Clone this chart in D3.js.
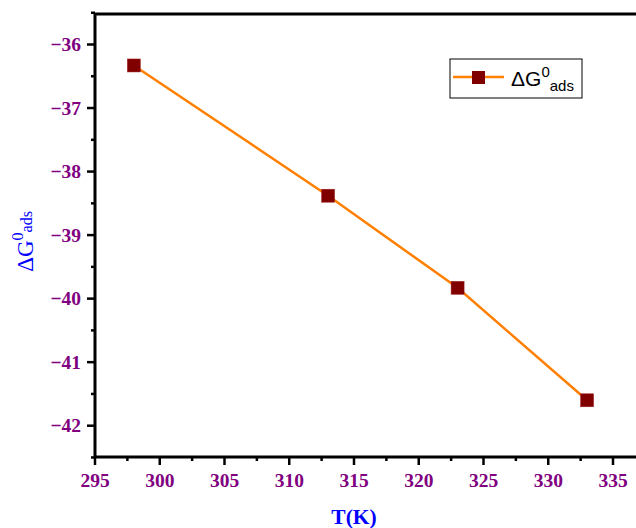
<!DOCTYPE html>
<html>
<head>
<meta charset="utf-8">
<script src="https://cdn.jsdelivr.net/npm/d3@7"></script>
<style>
body { margin: 0; background: #fff; }
</style>
</head>
<body>
<script>
var width = 636, height = 528;

// data
var temps = [298, 313, 323, 333];
var dG = [-36.33, -38.38, -39.83, -41.60];
var xTicks = [295, 300, 305, 310, 315, 320, 325, 330, 335];
var yTicks = [-36, -37, -38, -39, -40, -41, -42];

// plot edges (right edge runs off the picture)
var padL = 95, padT = 14, padR = 656, padB = 457;

var x = d3.scaleLinear().domain([295, 335]).range([padL, 613]);
var y = d3.scaleLinear().domain([-36, -42]).range([44.5, 425.7]);

var svg = d3.select("body").append("svg")
  .attr("width", width)
  .attr("height", height);

var purple = "#800080";
var minus = function(v){ return String(v).replace("-", "\u2212"); };

// minor ticks
var xMinor = d3.range(297.5, 337, 5);
svg.selectAll(".xminor").data(xMinor).enter().append("line")
  .attr("x1", function(d){ return x(d); }).attr("x2", function(d){ return x(d); })
  .attr("y1", padB).attr("y2", padB + 4)
  .attr("stroke", "#000").attr("stroke-width", 2.5);
var yMinor = d3.range(-35.5, -42.6, -0.5).filter(function(d){ return d % 1 !== 0; });
svg.selectAll(".yminor").data(yMinor).enter().append("line")
  .attr("x1", padL - 4).attr("x2", padL)
  .attr("y1", function(d){ return y(d); }).attr("y2", function(d){ return y(d); })
  .attr("stroke", "#000").attr("stroke-width", 2.5);

// major ticks
svg.selectAll(".xmajor").data(xTicks).enter().append("line")
  .attr("x1", function(d){ return x(d); }).attr("x2", function(d){ return x(d); })
  .attr("y1", padB).attr("y2", padB + 8)
  .attr("stroke", "#000").attr("stroke-width", 2.5);
svg.selectAll(".ymajor").data(yTicks).enter().append("line")
  .attr("x1", padL - 8).attr("x2", padL)
  .attr("y1", function(d){ return y(d); }).attr("y2", function(d){ return y(d); })
  .attr("stroke", "#000").attr("stroke-width", 2.5);

// tick labels
svg.selectAll(".xlab").data(xTicks).enter().append("text")
  .attr("x", function(d){ return x(d); })
  .attr("y", padB + 30)
  .attr("text-anchor", "middle")
  .attr("font-family", "Liberation Serif, serif")
  .attr("font-weight", "bold")
  .attr("font-size", 19.5)
  .attr("fill", purple)
  .text(function(d){ return d; });
svg.selectAll(".ylab").data(yTicks).enter().append("text")
  .attr("x", padL - 14)
  .attr("y", function(d){ return y(d) + 6.5; })
  .attr("text-anchor", "end")
  .attr("font-family", "Liberation Serif, serif")
  .attr("font-weight", "bold")
  .attr("font-size", 19.5)
  .attr("fill", purple)
  .text(function(d){ return minus(d); });

// frame
svg.append("path")
  .attr("d", "M" + padR + "," + padT + "H" + padL + "V" + padB + "H" + padR)
  .attr("fill", "none")
  .attr("stroke", "#000")
  .attr("stroke-width", 3);

// series
var pts = temps.map(function(t, i){ return [t, dG[i]]; });
var line = d3.line().x(function(d){ return x(d[0]); }).y(function(d){ return y(d[1]); });
svg.append("path")
  .attr("d", line(pts))
  .attr("fill", "none")
  .attr("stroke", "#ff8000")
  .attr("stroke-width", 2.5);
svg.selectAll(".mk").data(pts).enter().append("rect")
  .attr("x", function(d){ return x(d[0]) - 6.5; })
  .attr("y", function(d){ return y(d[1]) - 6.5; })
  .attr("width", 13).attr("height", 13)
  .attr("fill", "#800000")
  .attr("stroke", "#a02020").attr("stroke-width", 0.5);

// legend
var lg = svg.append("g");
lg.append("rect").attr("x", 450).attr("y", 59).attr("width", 132).attr("height", 39)
  .attr("fill", "#fff").attr("stroke", "#000").attr("stroke-width", 1);
lg.append("line").attr("x1", 453).attr("x2", 504).attr("y1", 77).attr("y2", 77)
  .attr("stroke", "#ff8000").attr("stroke-width", 2.5);
lg.append("rect").attr("x", 472).attr("y", 71).attr("width", 13).attr("height", 13)
  .attr("fill", "#800000");
var lt = lg.append("text").attr("x", 511).attr("y", 86)
  .attr("font-family", "Liberation Sans, Arial, sans-serif")
  .attr("font-size", 21).attr("fill", "#000");
lt.append("tspan").text("\u0394G");
lt.append("tspan").attr("dy", -9).attr("font-size", 15).text("0");
lt.append("tspan").attr("dy", 14).attr("font-size", 15).text("ads");

// axis titles
svg.append("text")
  .attr("x", x(315)).attr("y", 524)
  .attr("text-anchor", "middle")
  .attr("font-family", "Liberation Serif, serif")
  .attr("font-weight", "bold")
  .attr("font-size", 21.5)
  .attr("fill", "#0000ff")
  .text("T(K)");

var yt = svg.append("text")
  .attr("transform", "translate(33," + y(-39.1) + ") rotate(-90)")
  .attr("text-anchor", "middle")
  .attr("font-family", "Liberation Serif, serif")
  .attr("font-size", 23)
  .attr("fill", "#0000ff");
yt.append("tspan").text("\u0394G");
yt.append("tspan").attr("dy", -10).attr("font-size", 16).text("0");
yt.append("tspan").attr("dy", 9).attr("font-size", 16).text("ads");
</script>
</body>
</html>
